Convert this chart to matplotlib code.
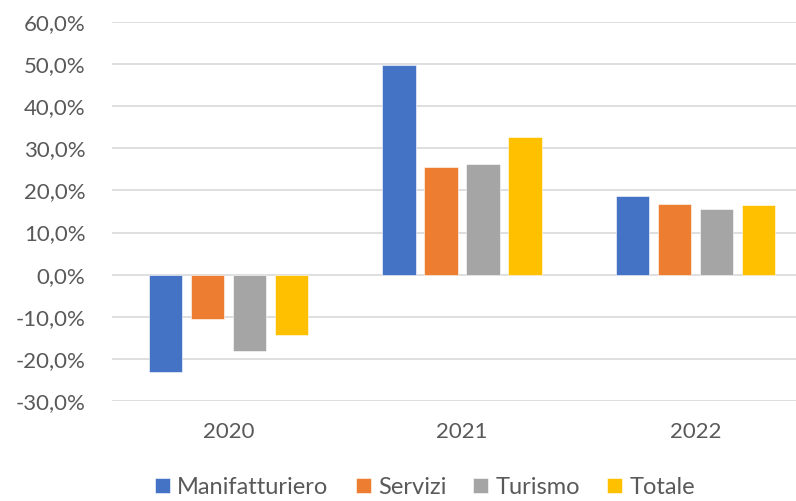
import numpy as np
import matplotlib
matplotlib.use('Agg')
from matplotlib import pyplot as plt
from matplotlib.ticker import FuncFormatter

plt.rcParams['font.family'] = ['Lato', 'DejaVu Sans']

years = ['2020', '2021', '2022']
series = ['Manifatturiero', 'Servizi', 'Turismo', 'Totale']
manifatturiero = [-23.2, 49.8, 18.6]
servizi = [-10.5, 25.6, 16.8]
turismo = [-18.2, 26.3, 15.6]
totale = [-14.4, 32.7, 16.6]
colors = ['#4472C4', '#ED7D31', '#A5A5A5', '#FFC000']

values = [manifatturiero, servizi, turismo, totale]

fig = plt.figure(figsize=(7.96, 5.01), dpi=100)
ax = fig.add_axes([112 / 796, 1 - 401 / 501, 700 / 796, 379 / 501])

x = np.arange(len(years))
step = 0.18
width = 0.142
for i, (name, vals, col) in enumerate(zip(series, values, colors)):
    ax.bar(x + (i - 1.5) * step, np.array(vals) / 100, width, color=col,
           label=name, edgecolor='white', linewidth=0.4, zorder=3)

ax.set_xlim(-0.5, 2.5)
ax.set_ylim(-0.3, 0.6)
ax.set_yticks(np.arange(-0.3, 0.61, 0.1))
ax.yaxis.set_major_formatter(FuncFormatter(lambda v, p: ('%.1f%%' % (v * 100)).replace('.', ',').replace('-0,0', '0,0')))
ax.set_xticks(x)
ax.set_xticklabels(years)
ax.grid(axis='y', color='#d9d9d9', linewidth=1.2, zorder=0)
for s in ax.spines.values():
    s.set_visible(False)
ax.tick_params(axis='both', length=0, labelsize=16, colors='#595959')
ax.tick_params(axis='y', pad=19)
ax.tick_params(axis='x', pad=15)

fig.legend(loc='lower center', bbox_to_anchor=(425 / 796, -0.036), ncol=4, frameon=False,
           fontsize=17, handlelength=0.64, handleheight=0.64, handletextpad=0.3,
           columnspacing=1.15, labelcolor='#595959')

plt.savefig('out.png', dpi=100)
plt.close()
